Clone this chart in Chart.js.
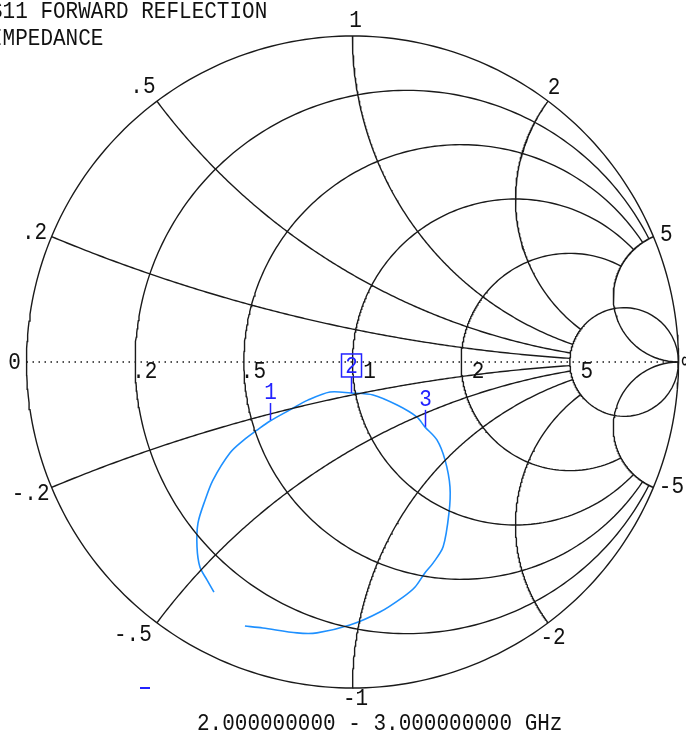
<!DOCTYPE html>
<html>
<head>
<title>S11 Forward Reflection - Smith Chart</title>
<script src="https://cdn.jsdelivr.net/npm/chart.js"></script>
<style>
body { margin: 0; background: #fff; }
#chartContainer {
  width: 686px;
  height: 737px;
  position: relative;
}
</style>
</head>
<body>
  <div id="chartContainer">
    <canvas id="myChart"></canvas>
  </div>

  <script>
  // Smith chart grid
  const resistances = [0, 0.2, 0.5, 1, 2, 5];
  const resistanceLabels = ['0', '.2', '.5', '1', '2', '5'];
  const reactances = [0.2, 0.5, 1, 2, 5];
  const reactanceLabels = ['.2', '.5', '1', '2', '5'];
  const negReactanceLabels = ['-.2', '-.5', '-1', '-2', '-5'];

  const s11Re = [-0.425, -0.446, -0.468, -0.477, -0.474, -0.452, -0.428, -0.376, -0.333, -0.293,
                 -0.253, -0.192, -0.137, -0.069, -0.005, 0.063, 0.137, 0.198, 0.222, 0.259,
                 0.284, 0.299, 0.296, 0.278, 0.247, 0.222, 0.192, 0.155, 0.084, -0.008,
                 -0.109, -0.170, -0.275, -0.330];
  const s11Im = [-0.706, -0.669, -0.629, -0.567, -0.494, -0.423, -0.362, -0.279, -0.239, -0.209,
                 -0.181, -0.147, -0.117, -0.092, -0.095, -0.101, -0.132, -0.169, -0.199, -0.239,
                 -0.301, -0.383, -0.463, -0.567, -0.617, -0.647, -0.690, -0.721, -0.767, -0.807,
                 -0.831, -0.831, -0.816, -0.810];

  // markers
  const markerNames = ['1', '2', '3'];
  const markerRe = [-0.253, -0.005, 0.222];
  const markerIm = [-0.178, -0.095, -0.199];
  const activeMarker = 1;

  const titleLines = ['S11 FORWARD REFLECTION', 'IMPEDANCE'];
  const sweepText = '2.000000000 - 3.000000000 GHz';

  // layout: chart centre and radius in pixels
  const W = 686, H = 737, CX = 352.5, CY = 362, RAD = 326;
  const FONT = '21px "Liberation Mono", "DejaVu Sans Mono", monospace';
  const GRID = '#1a1a1a';
  const MARK = '#2323ff';

  function gamma(r, x) {
    const d = (r + 1) * (r + 1) + x * x;
    return { x: (r * r + x * x - 1) / d, y: 2 * x / d };
  }

  function resistanceCircle(r) {
    const lim = r === 0 || r === 5 ? Math.PI / 2 - 1e-4 : Math.atan(5);
    const pts = [];
    for (let i = 0; i <= 300; i++) {
      const phi = -lim + 2 * lim * i / 300;
      pts.push(gamma(r, Math.tan(phi)));
    }
    return pts;
  }

  function reactanceArc(x) {
    const lim = Math.abs(x) === 5 ? Math.PI / 2 - 1e-4 : Math.atan(5);
    const pts = [];
    for (let i = 0; i <= 200; i++) {
      pts.push(gamma(Math.tan(lim * i / 200), x));
    }
    return pts;
  }

  const gridLine = data => ({
    data: data, showLine: true, pointRadius: 0, borderColor: GRID,
    borderWidth: 1.4, tension: 0, fill: false
  });

  const datasets = [];
  resistances.forEach(r => datasets.push(gridLine(resistanceCircle(r))));
  reactances.forEach(x => {
    datasets.push(gridLine(reactanceArc(x)));
    datasets.push(gridLine(reactanceArc(-x)));
  });
  datasets.push({
    data: [{ x: -1, y: 0 }, { x: 1, y: 0 }], showLine: true, pointRadius: 0,
    borderColor: GRID, borderWidth: 1.5, borderDash: [1.5, 4.5]
  });
  datasets.push({
    data: s11Re.map((re, i) => ({ x: re, y: s11Im[i] })),
    showLine: true, pointRadius: 0, borderColor: '#1e90ff', borderWidth: 1.6, tension: 0.3
  });

  function drawText(ctx, str, x, y, align) {
    ctx.save();
    ctx.translate(x, y);
    ctx.scale(1, 1.12);
    ctx.textAlign = align;
    ctx.textBaseline = 'alphabetic';
    ctx.fillText(str, 0, 0);
    ctx.restore();
  }

  // label offsets (centre of label relative to its point on the outer circle)
  const posOffsets = [[-17, -6], [-14, -16], [3, -17], [6, -15], [13, -4]];
  const negOffsets = [[-21, 5], [-24, 10], [3, 9], [5, 13], [18, -2]];

  const smithLabels = {
    id: 'smithLabels',
    afterDatasetsDraw(chart) {
      const ctx = chart.ctx;
      const sx = chart.scales.x, sy = chart.scales.y;
      const px = v => sx.getPixelForValue(v);
      const py = v => sy.getPixelForValue(v);
      ctx.save();
      ctx.font = FONT;
      ctx.fillStyle = '#111';

      drawText(ctx, titleLines[0], -10, 18, 'left');
      drawText(ctx, titleLines[1], -10, 45, 'left');
      drawText(ctx, sweepText, 197, 730, 'left');

      resistances.forEach((r, i) => {
        const g = gamma(r, 0);
        const lbl = resistanceLabels[i];
        if (r === 0) drawText(ctx, lbl, px(g.x) - 12, py(0) + 7, 'center');
        else if (lbl[0] === '.') drawText(ctx, lbl, px(g.x) - 3, py(0) + 16, 'left');
        else drawText(ctx, lbl, px(g.x) + 17, py(0) + 16, 'center');
      });
      drawText(ctx, '\u221e', px(1) + 3, py(0) + 6, 'left');

      reactances.forEach((x, i) => {
        const gp = gamma(0, x), gn = gamma(0, -x);
        drawText(ctx, reactanceLabels[i], px(gp.x) + posOffsets[i][0], py(gp.y) + posOffsets[i][1] + 8, 'center');
        drawText(ctx, negReactanceLabels[i], px(gn.x) + negOffsets[i][0], py(gn.y) + negOffsets[i][1] + 8, 'center');
      });

      // markers
      ctx.strokeStyle = MARK;
      ctx.fillStyle = MARK;
      ctx.lineWidth = 1.5;
      markerNames.forEach((name, i) => {
        const mx = Math.round(px(markerRe[i])) + 0.5, my = py(markerIm[i]);
        ctx.beginPath();
        if (i === activeMarker) {
          ctx.strokeRect(mx - 10, my - 39, 20, 23);
          ctx.moveTo(mx, my - 16);
          ctx.lineTo(mx, my);
          ctx.stroke();
          drawText(ctx, name, mx, my - 20, 'center');
        } else {
          ctx.moveTo(mx, my - 17);
          ctx.lineTo(mx, my);
          ctx.stroke();
          drawText(ctx, name, mx, my - 21, 'center');
        }
      });
      ctx.fillRect(140, 687, 10, 2);
      ctx.restore();
    }
  };

  const ctx = document.getElementById('myChart').getContext('2d');
  new Chart(ctx, {
    type: 'scatter',
    data: { datasets: datasets },
    options: {
      responsive: true,
      maintainAspectRatio: false,
      animation: false,
      layout: { padding: 0 },
      plugins: { legend: { display: false }, tooltip: { enabled: false } },
      scales: {
        x: { type: 'linear', display: false, min: -CX / RAD, max: (W - CX) / RAD },
        y: { type: 'linear', display: false, min: (CY - H) / RAD, max: CY / RAD }
      }
    },
    plugins: [smithLabels]
  });
  </script>
</body>
</html>
